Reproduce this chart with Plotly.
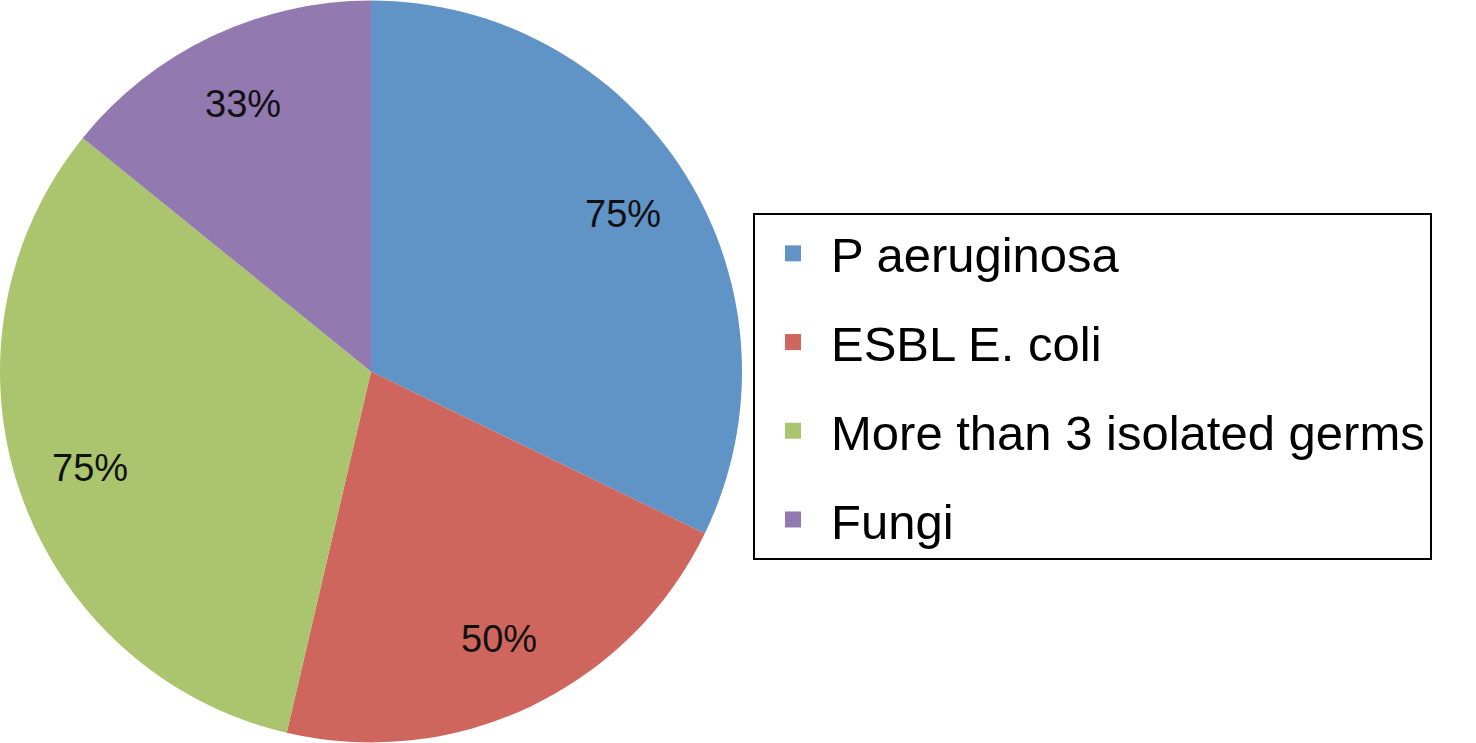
import math
import plotly.graph_objects as go

# data
categories = ["P aeruginosa", "ESBL E. coli", "More than 3 isolated germs", "Fungi"]
values = [75, 50, 75, 33]
colors = ["#6194C6", "#CF665D", "#ABC46E", "#9279B0"]

W, H = 1476, 743
PIE_W = 742  # pie domain width in px
FONT = "Liberation Sans, Arial, Helvetica, sans-serif"

fig = go.Figure()
fig.add_trace(go.Pie(
    labels=categories,
    values=values,
    textinfo="none",
    marker=dict(colors=colors, line=dict(width=0)),
    sort=False,
    direction="clockwise",
    rotation=0,
    domain=dict(x=[0, PIE_W / W], y=[0, 1]),
    showlegend=False,
    hoverinfo="label+value",
))

# legend entries, one group each so they can be spaced apart
for name, c in zip(categories, colors):
    fig.add_trace(go.Scatter(
        x=[None], y=[None], mode="markers", name=name,
        legendgroup=name,
        marker=dict(symbol="square", size=16, color=c),
    ))

# value labels placed around the slices, out at ~0.8 of the radius
total = sum(values)
radius = min(PIE_W, H) / 2
start = 90.0
for v in values:
    span = 360.0 * v / total
    mid = math.radians(start - span / 2)
    start -= span
    r = 0.8 * radius
    fig.add_annotation(
        x=(PIE_W / 2 + r * math.cos(mid)) / W,
        y=0.5 + r * math.sin(mid) / H,
        xref="paper", yref="paper",
        xanchor="center", yanchor="middle",
        text=f"{v}%", showarrow=False,
        font=dict(size=38, color="#111111", family=FONT),
    )

fig.update_layout(
    width=W,
    height=H,
    margin=dict(l=0, r=0, t=0, b=0),
    paper_bgcolor="white",
    plot_bgcolor="white",
    font=dict(family=FONT, color="black"),
    xaxis=dict(visible=False),
    yaxis=dict(visible=False),
    legend=dict(
        x=753 / W, y=1 - 213 / H,
        xanchor="left", yanchor="top",
        bordercolor="black", borderwidth=2,
        bgcolor="white",
        font=dict(size=49, color="black"),
        itemwidth=66,
        tracegroupgap=22,
    ),
)

fig.write_html("out.html", config={"displayModeBar": False},
               post_script="document.body.style.margin='0';")
